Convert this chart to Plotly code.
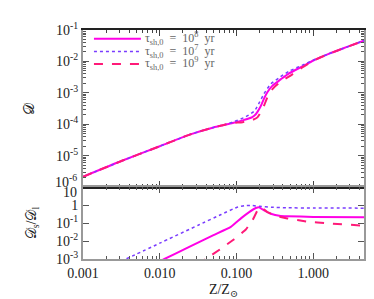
import plotly.graph_objects as go

# ---- data ----
z_common = [0.001, 0.00316, 0.01, 0.0251, 0.0501, 0.0661]
d_common = [2.14e-6, 6.76e-6, 2.0e-5, 4.79e-5, 7.94e-5, 9.33e-5]

z_tail = [1.585, 2.818, 5.012]
d_tail = [1.74e-2, 2.95e-2, 5.01e-2]

# tau = 1e8 yr (solid)
z_8 = [0.0891, 0.126, 0.158, 0.178, 0.207, 0.229, 0.253, 0.294, 0.376, 0.483, 0.719, 1.0]
d_8 = [1.10e-4, 1.38e-4, 1.66e-4, 2.09e-4, 3.80e-4, 6.76e-4, 1.07e-3, 1.70e-3, 2.69e-3, 4.17e-3, 6.92e-3, 1.07e-2]

# tau = 1e7 yr (dotted)
z_7 = [0.0891, 0.132, 0.170, 0.197, 0.229, 0.279, 0.358, 0.483, 0.719, 1.0]
d_7 = [1.17e-4, 1.74e-4, 2.63e-4, 4.79e-4, 9.55e-4, 1.91e-3, 3.02e-3, 4.90e-3, 7.59e-3, 1.10e-2]

# tau = 1e9 yr (dashed)
z_9 = [0.0891, 0.120, 0.162, 0.187, 0.218, 0.240, 0.266, 0.309, 0.395, 0.533, 0.719, 1.0]
d_9 = [1.10e-4, 1.17e-4, 1.38e-4, 1.66e-4, 3.02e-4, 5.37e-4, 9.55e-4, 1.51e-3, 2.45e-3, 3.89e-3, 6.46e-3, 1.05e-2]

# ratio D_s / D_l
zr_7 = [0.001, 0.01, 0.0316, 0.0631, 0.1, 0.126, 0.158, 0.2, 0.282, 0.447, 1.0, 5.012]
r_7 = [7.6e-5, 7.6e-3, 7.6e-2, 0.302, 0.741, 0.933, 0.955, 0.851, 0.759, 0.708, 0.692, 0.676]

zr_8 = [0.00316, 0.0115, 0.0231, 0.0501, 0.0843, 0.114, 0.146, 0.178, 0.197, 0.229, 0.279, 0.376, 0.459, 1.0, 5.012]
r_8 = [6.9e-5, 1.0e-3, 4.27e-3, 2.14e-2, 6.17e-2, 0.182, 0.407, 0.692, 0.759, 0.501, 0.331, 0.251, 0.240, 0.219, 0.209]

zr_9 = [0.02, 0.0398, 0.0625, 0.0933, 0.132, 0.162, 0.187, 0.207, 0.253, 0.340, 0.459, 0.836, 1.52, 4.07, 5.012]
r_9 = [1.26e-4, 1.0e-3, 3.72e-3, 1.26e-2, 4.37e-2, 0.148, 0.501, 0.759, 0.407, 0.240, 0.182, 0.120, 0.0977, 0.0741, 0.0724]

x_tickvals = [0.001, 0.01, 0.1, 1.0]
x_ticktext = ["0.001", "0.010", "0.100", "1.000"]
y1_tickvals = [1e-1, 1e-2, 1e-3, 1e-4, 1e-5, 1e-6]
y1_ticktext = ["10<sup>-1</sup>", "10<sup>-2</sup>", "10<sup>-3</sup>", "10<sup>-4</sup>", "10<sup>-5</sup>", "10<sup>-6</sup>"]
y2_tickvals = [10, 1, 1e-1, 1e-2, 1e-3]
y2_ticktext = ["10", "1", "10<sup>-1</sup>", "10<sup>-2</sup>", "10<sup>-3</sup>"]

labels = ["τ<sub>sh,0</sub>  =  10<sup>8</sup>  yr",
          "τ<sub>sh,0</sub>  =  10<sup>7</sup>  yr",
          "τ<sub>sh,0</sub>  =  10<sup>9</sup>  yr"]

C_SOLID = "#ff00e6"
C_DOT = "#7a3cff"
C_DASH = "#ff1a78"
styles = [dict(color=C_SOLID, width=2, dash="solid"),
          dict(color=C_DOT, width=1.5, dash="dot"),
          dict(color=C_DASH, width=2, dash="dash")]

FONT = "Liberation Serif, DejaVu Serif, serif"
TICKFONT = dict(family=FONT, size=14, color="#222")

fig = go.Figure()

top_x = [z_common + z_8 + z_tail, z_common + z_7 + z_tail, z_common + z_9 + z_tail]
top_y = [d_common + d_8 + d_tail, d_common + d_7 + d_tail, d_common + d_9 + d_tail]
for xs, ys, st, lab in zip(top_x, top_y, styles, labels):
    fig.add_trace(go.Scatter(x=xs, y=ys, mode="lines", name=lab, showlegend=False,
                             line=dict(**st, shape="spline", smoothing=0.6),
                             xaxis="x", yaxis="y"))

for xs, ys, st in zip([zr_8, zr_7, zr_9], [r_8, r_7, r_9], styles):
    fig.add_trace(go.Scatter(x=xs, y=ys, mode="lines", showlegend=False,
                             line=dict(**st, shape="spline", smoothing=0.3),
                             xaxis="x2", yaxis="y2"))

split = 75 / 239
xr = [-3, 0.66]
common_x = dict(type="log", range=xr, ticks="inside", ticklen=6, mirror="allticks",
                tickvals=x_tickvals, showgrid=False, zeroline=False, tickfont=TICKFONT,
                minor=dict(ticks="inside", ticklen=3, dtick="D1", showgrid=False))

fig.update_layout(
    width=374, height=299,
    margin=dict(l=75, r=18, t=15, b=45),
    paper_bgcolor="white", plot_bgcolor="white",
    font=dict(family=FONT, size=14, color="#222"),
    showlegend=False,
    xaxis=dict(**common_x, domain=[0, 1], anchor="y", showticklabels=False,
               showline=True, linecolor="#222", linewidth=1.5, tickcolor="#444"),
    yaxis=dict(type="log", range=[-6, -1], domain=[split, 1], anchor="x",
               tickvals=y1_tickvals[:-1], ticktext=y1_ticktext[:-1], ticks="inside", ticklen=6,
               tickfont=TICKFONT,
               mirror="allticks", showline=True, linecolor="#999", linewidth=2, tickcolor="#555",
               showgrid=False, zeroline=False,
               minor=dict(ticks="inside", ticklen=3, dtick="D1", showgrid=False),
               title=dict(text="𝒟", font=dict(size=15), standoff=18)),
    xaxis2=dict(**common_x, domain=[0, 1], anchor="y2", matches="x",
                ticktext=x_ticktext, showticklabels=True,
                showline=True, linecolor="#999", linewidth=2, tickcolor="#555",
                title=dict(text="Z/Z<sub>⊙</sub>", font=dict(size=14), standoff=4)),
    yaxis2=dict(type="log", range=[-3, 1], domain=[0, split], anchor="x2",
                tickvals=y2_tickvals[1:], ticktext=y2_ticktext[1:], ticks="inside", ticklen=6,
                tickfont=TICKFONT,
                mirror="allticks", showline=True, linecolor="#999", linewidth=2, tickcolor="#555",
                showgrid=False, zeroline=False,
                title=dict(text="𝒟<sub>s</sub>/𝒟<sub>l</sub>", font=dict(size=14), standoff=16)),
)

# extreme tick labels nudged apart (as in the reference)
fig.add_annotation(xref="paper", x=0, xanchor="right", xshift=-4, yref="y", y=-6,
                   yanchor="middle", yshift=6, text=y1_ticktext[-1], showarrow=False,
                   font=TICKFONT)
fig.add_annotation(xref="paper", x=0, xanchor="right", xshift=-4, yref="y2", y=1,
                   yanchor="middle", yshift=-5, text=y2_ticktext[0], showarrow=False,
                   font=TICKFONT)

# legend drawn as sample lines + text
leg_y = [0.962, 0.906, 0.852]
for st, lab, yy in zip(styles, labels, leg_y):
    fig.add_shape(type="line", xref="paper", yref="paper", x0=0.039, x1=0.206, y0=yy, y1=yy,
                  line=dict(color=st["color"], width=st["width"], dash=st["dash"]))
    fig.add_annotation(xref="paper", yref="paper", x=0.213, y=yy, xanchor="left",
                       yanchor="middle", text=lab, showarrow=False,
                       font=dict(family=FONT, size=12, color="#666"))

fig.write_html("out.html")
